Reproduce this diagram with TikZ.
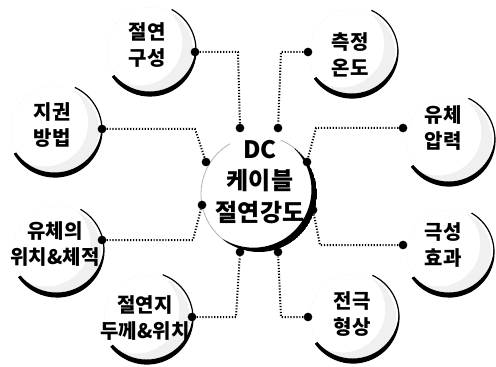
\documentclass[tikz,border=0pt]{standalone}
\usepackage{fontspec}
\newfontfamily\kr{Noto Sans CJK KR Black}
\usetikzlibrary{patterns}
\newcommand\crescentfill[7]{%
  \begin{scope}
    \clip (#1,#2) -- ([shift={(#6:#3+10)}]#1,#2) arc[start angle=#6, end angle=#7, radius=#3+10] -- cycle;
    \clip (#1,#2) circle[radius=#3];
    \fill[even odd rule] (#1,#2) circle[radius=#3] ([shift={(#4+180:#5)}]#1,#2) circle[radius=#3];
  \end{scope}}
\newcommand\stipple[3]{%
  \begin{scope}
    \clip (#1,#2) circle[radius=#3-3];
    \fill[pattern=dots, pattern color=gray!60, even odd rule] (#1,#2) circle[radius=#3-3] ([shift={(215:13)}]#1,#2) circle[radius=#3-3];
    \fill[gray!12, even odd rule] (#1,#2) circle[radius=#3-3] ([shift={(215:13)}]#1,#2) circle[radius=#3-3];
  \end{scope}}
\newcommand\bubbleshape[5]{%
  \stipple{#1}{#2}{#3}
  \draw[thinarc] ([shift={(#4:#3)}]#1,#2) arc[start angle=#4, end angle=#5, radius=#3];
  \crescentfill{#1}{#2}{#3}{85}{4.5}{-5}{#5}}
\begin{document}
\begin{tikzpicture}[x=0.75pt,y=-0.75pt,
  lbl/.style={font=\kr\fontsize{15}{19}\selectfont, align=center, inner sep=0},
  clbl/.style={font=\kr\fontsize{18}{23.5}\selectfont, align=center, inner sep=0},
  jdot/.style={circle, fill=black, inner sep=0, minimum size=6.5pt},
  conn/.style={line width=1.5pt, dash pattern=on 0.9pt off 1.3pt},
  thinarc/.style={line width=0.9pt},
]
\useasboundingbox (0,0) rectangle (496,367);

% bubbles
\bubbleshape{150}{50}{46}{-62}{145}
\bubbleshape{352}{52}{46}{-65}{145}
\bubbleshape{55}{130}{47}{-65}{150}
\bubbleshape{57}{250}{47}{-60}{145}
\bubbleshape{147}{318}{46}{-70}{142}
\bubbleshape{449}{140}{46}{-65}{145}
\bubbleshape{449}{252}{45}{-60}{145}
\bubbleshape{353}{317}{46}{-65}{145}

% centre circle
\draw[gray!60, line width=0.6pt] ([shift={(120:58)}]259,194) arc[start angle=120, end angle=240, radius=58];
\draw[gray!60, line width=0.6pt] ([shift={(292:58)}]259,194) arc[start angle=292, end angle=322, radius=58];
\crescentfill{259}{194}{58}{38}{7}{-52}{128}

% texts
\node[lbl] (b1) at (147,45) {절연\\구성};
\node[lbl] (b2) at (350,55) {측정\\온도};
\node[lbl] (b3) at (52,125) {지권\\방법};
\node[lbl] (b4) at (55,244) {유체의\\위치\&체적};
\node[lbl] (b5) at (145,318) {절연지\\두께\&위치};
\node[lbl] (b6) at (443,128) {유체\\압력};
\node[lbl] (b7) at (443,245) {극성\\효과};
\node[lbl] (b8) at (352,314) {전극\\형상};
\node[clbl] (ctr) at (260,182) {DC\\케이블\\절연강도};

% dots on bubbles
\node[jdot] (d1) at (195,52) {};
\node[jdot] (d2) at (308,52) {};
\node[jdot] (d3) at (102,129) {};
\node[jdot] (d4) at (102,240) {};
\node[jdot] (d5) at (192,317) {};
\node[jdot] (d6) at (403,128) {};
\node[jdot] (d7) at (403,245) {};
\node[jdot] (d8) at (308,317) {};
% dots on centre
\node[jdot] (c1) at (240,128) {};
\node[jdot] (c2) at (278,128) {};
\node[jdot] (c3) at (206,162) {};
\node[jdot] (c4) at (202,205) {};
\node[jdot] (c5) at (240,252) {};
\node[jdot] (c6) at (307,162) {};
\node[jdot] (c7) at (313,210) {};
\node[jdot] (c8) at (278,252) {};
% bends
\coordinate (k1) at (238,52);
\coordinate (k2) at (281,52);
\coordinate (k3) at (195,129);
\coordinate (k4) at (193,240);
\coordinate (k5) at (236,317);
\coordinate (k6) at (316,128);
\coordinate (k7) at (320,245);
\coordinate (k8) at (281,317);

\draw[conn] (d1) -- (k1) -- (c1);
\draw[conn] (d2) -- (k2) -- (c2);
\draw[conn] (d3) -- (k3) -- (c3);
\draw[conn] (d4) -- (k4) -- (c4);
\draw[conn] (d5) -- (k5) -- (c5);
\draw[conn] (d6) -- (k6) -- (c6);
\draw[conn] (d7) -- (k7) -- (c7);
\draw[conn] (d8) -- (k8) -- (c8);
\end{tikzpicture}
\end{document}
